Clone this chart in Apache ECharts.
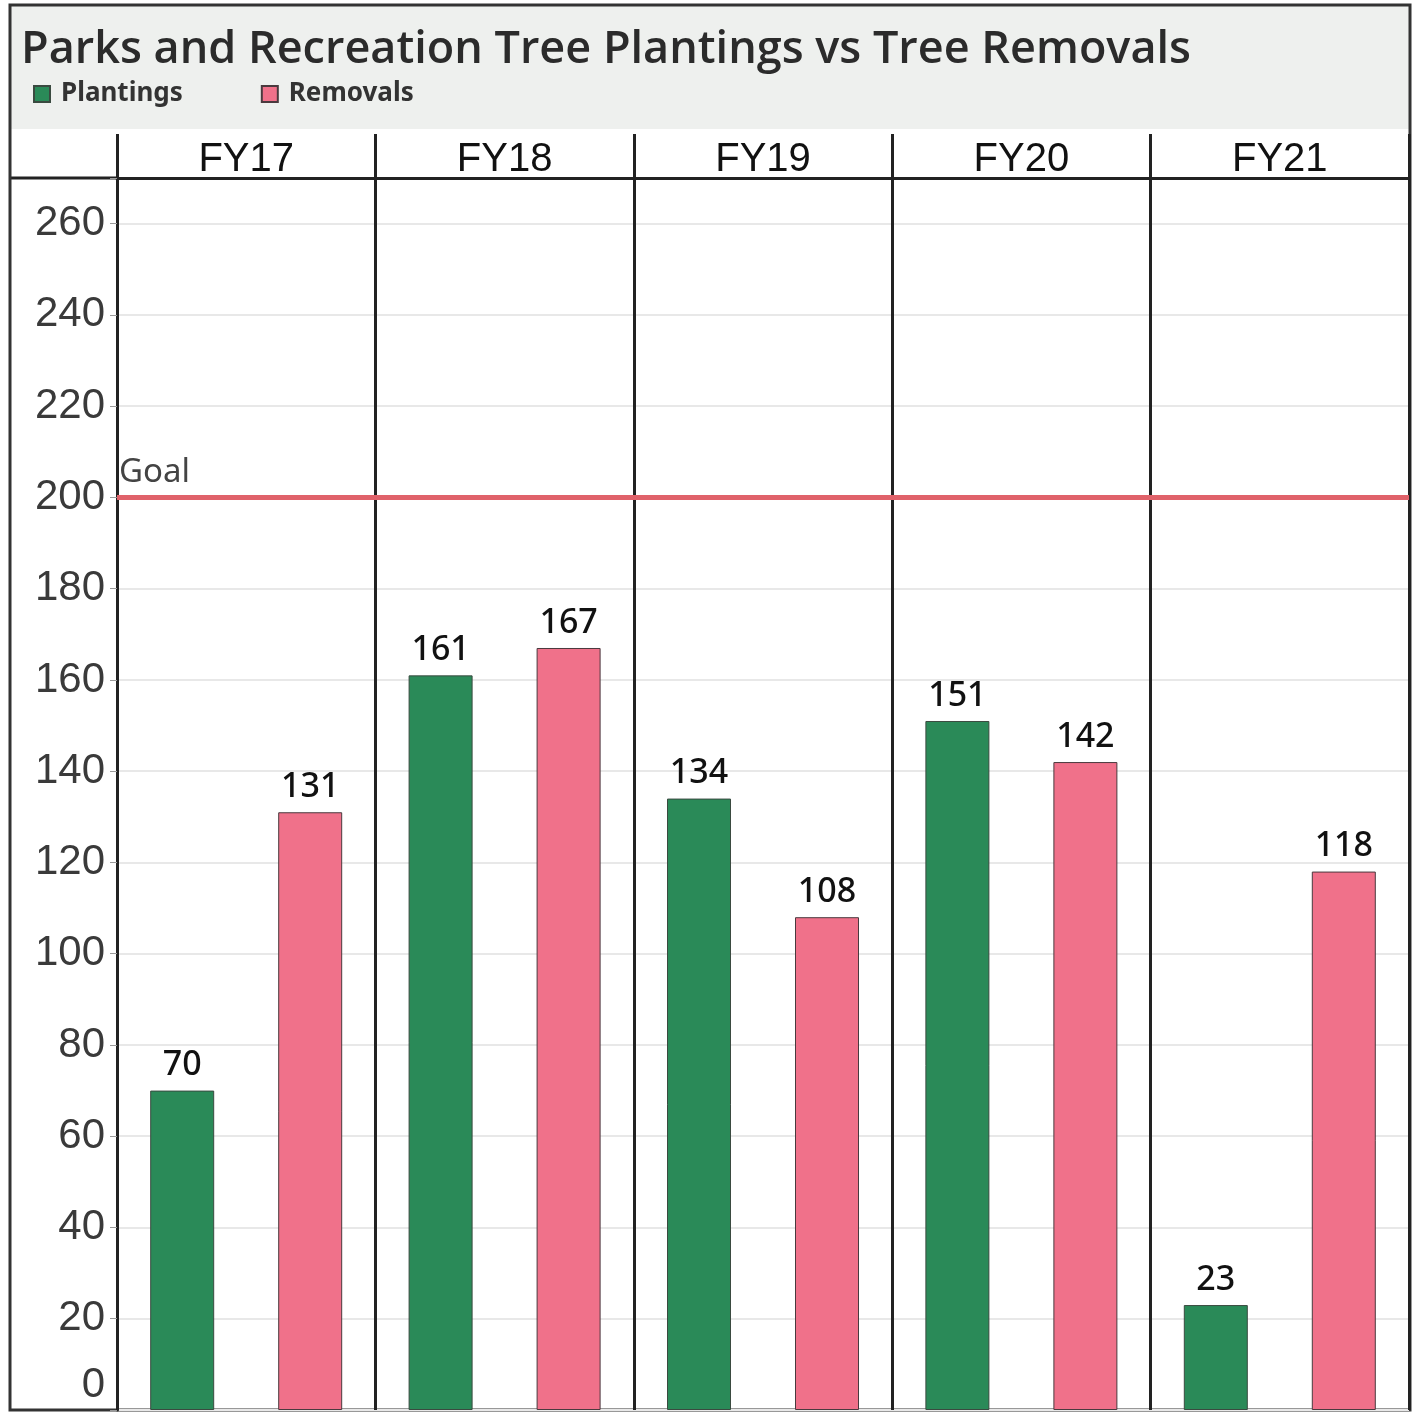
<!DOCTYPE html>
<html>
<head>
<meta charset="utf-8">
<script src="https://cdn.jsdelivr.net/npm/echarts@6/dist/echarts.min.js"></script>
<style>
  html, body { margin: 0; padding: 0; background: #fff; }
  #chart { width: 1415px; height: 1412px; }
</style>
</head>
<body>
<div id="chart"></div>
<script>
const years = ['FY17', 'FY18', 'FY19', 'FY20', 'FY21']
const plantings = [70, 161, 134, 151, 23]
const removals = [131, 167, 108, 142, 118]
const goal = 200
const yTicks = [0, 20, 40, 60, 80, 100, 120, 140, 160, 180, 200, 220, 240, 260]

const chart = echarts.init(document.getElementById('chart'))

const valueLabel = {
    show: true,
    position: 'top',
    distance: 8,
    fontFamily: 'Noto Sans',
    fontSize: 34,
    fontWeight: 500,
    color: '#111'
}

chart.setOption({
    animation: false,
    backgroundColor: '#fff',
    title: {
        text: 'Parks and Recreation Tree Plantings vs Tree Removals',
        left: 16,
        top: 23,
        textStyle: {
            fontFamily: 'Open Sans',
            fontSize: 45,
            fontWeight: 600,
            color: '#2b2b2b'
        }
    },
    legend: {
        left: 28,
        top: 76,
        itemWidth: 16,
        itemHeight: 16,
        itemGap: 78,
        icon: 'rect',
        textStyle: {
            fontFamily: 'Noto Sans',
            fontSize: 26,
            fontWeight: 'bold',
            color: '#333',
            padding: [0, 0, 0, 6]
        },
        data: ['Plantings', 'Removals']
    },
    graphic: [
        {
            type: 'rect',
            z: -1,
            shape: { x: 10, y: 5, width: 1400, height: 124 },
            style: { fill: '#eef0ee' }
        },
        {
            type: 'line',
            shape: { x1: 10, y1: 178, x2: 117, y2: 178 },
            style: { stroke: '#222', lineWidth: 3 }
        },
        {
            type: 'rect',
            shape: { x: 10, y: 5, width: 1400, height: 1405 },
            style: { fill: 'none', stroke: '#333', lineWidth: 3 }
        }
    ],
    grid: {
        left: 117,
        right: 6,
        top: 178,
        bottom: 2
    },
    xAxis: {
        type: 'category',
        position: 'top',
        data: years,
        axisLine: { show: true, onZero: false, lineStyle: { color: '#222', width: 3 } },
        axisTick: {
            show: true,
            inside: false,
            alignWithLabel: false,
            interval: 0,
            length: 44,
            lineStyle: { color: '#222', width: 3 }
        },
        axisLabel: {
            margin: -2,
            fontFamily: 'Liberation Sans',
            fontSize: 40,
            color: '#111'
        },
        splitLine: { show: true, interval: 0, lineStyle: { color: '#222', width: 3 } }
    },
    yAxis: {
        type: 'value',
        min: 0,
        max: 270,
        interval: 20,
        axisLine: { show: true, lineStyle: { color: '#222', width: 3 } },
        axisTick: { show: true, length: 7, lineStyle: { color: '#999', width: 1 } },
        axisLabel: {
            margin: 12,
            fontFamily: 'Liberation Sans',
            fontSize: 42,
            color: '#3a3a3a',
            formatter: v => (yTicks.includes(v) ? (v === 0 ? '{z|0}' : String(v)) : ''),
            rich: {
                z: { fontFamily: 'Liberation Sans', fontSize: 42, color: '#3a3a3a', padding: [0, 0, 50, 0] }
            }
        },
        splitLine: { show: true, lineStyle: { color: '#e8e8e8', width: 2 } }
    },
    series: [
        {
            name: 'Plantings',
            type: 'bar',
            data: plantings,
            barWidth: 64,
            barGap: '100%',
            itemStyle: { color: '#2a8a58', borderColor: '#3a4a40', borderWidth: 1 },
            label: valueLabel,
            markLine: {
                silent: true,
                symbol: 'none',
                lineStyle: { color: '#e0626a', width: 5, type: 'solid' },
                label: {
                    formatter: 'Goal',
                    position: 'insideStartTop',
                    distance: [2, 8],
                    fontFamily: 'Noto Sans',
                    fontSize: 33,
                    color: '#444'
                },
                data: [{ yAxis: goal }]
            }
        },
        {
            name: 'Removals',
            type: 'bar',
            data: removals,
            barWidth: 64,
            barGap: '100%',
            itemStyle: { color: '#f0718a', borderColor: '#4a3a3e', borderWidth: 1 },
            label: valueLabel
        }
    ]
})
</script>
</body>
</html>
